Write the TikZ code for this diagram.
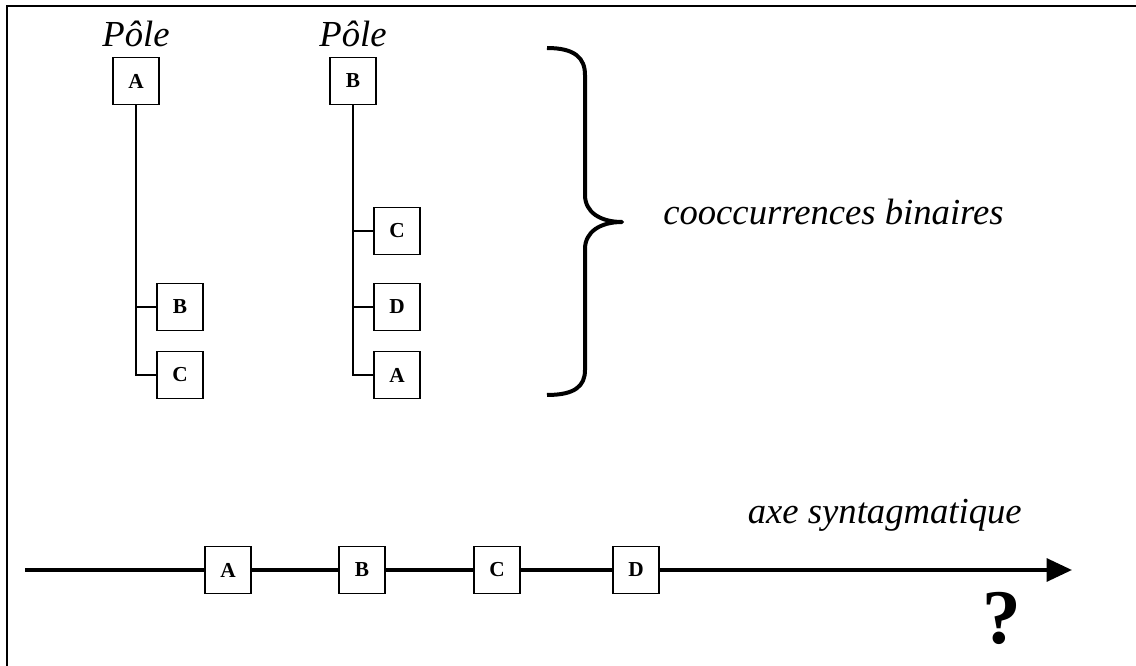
\documentclass[tikz,border=0pt]{standalone}
\usepackage{fontspec}
\setmainfont{Liberation Serif}
\usetikzlibrary{positioning, arrows.meta}

\begin{document}
\begin{tikzpicture}[
    x=0.75pt, y=-0.75pt,
    lettre/.style={rectangle, draw=black, line width=1.2pt, fill=white, minimum width=34.5pt, minimum height=35pt, inner sep=0pt, font=\fontsize{16}{16}\selectfont\bfseries},
    pole/.style={font=\fontsize{27.5}{30}\selectfont\itshape, inner sep=0pt},
    legende/.style={font=\fontsize{27.5}{30}\selectfont\itshape, inner sep=0pt},
    branche/.style={line width=1.5pt},
    axe/.style={line width=3pt},
    fleche/.style={-{Triangle[length=19pt, width=17pt]}, line width=3pt},
]

\useasboundingbox (0,0) rectangle (1136,666);

% ========== FRAME ==========
\draw[line width=1.5pt] (7,666) -- (7,6) -- (1136,6);

% ========== POLE A ==========
\node[lettre] (pA) at (136,81) {A};
\node[pole, above=7.5pt of pA] (lpA) {Pôle};
\node[lettre] (pAb) at (180,307) {B};
\node[lettre] (pAc) at (180,375) {C};

% ========== POLE B ==========
\node[lettre] (pB) at (353,81) {B};
\node[pole, above=7.5pt of pB] (lpB) {Pôle};
\node[lettre] (pBc) at (397,231) {C};
\node[lettre] (pBd) at (397,307) {D};
\node[lettre] (pBa) at (397,375) {A};

% ========== BRANCHES ==========
\draw[branche] (pA.south) |- (pAb.west);
\draw[branche] (pA.south) |- (pAc.west);

\draw[branche] (pB.south) |- (pBc.west);
\draw[branche] (pB.south) |- (pBd.west);
\draw[branche] (pB.south) |- (pBa.west);

% ========== BRACE ==========
\draw[line width=3pt, line join=round] (547,48) .. controls (575,48) and (585,58) .. (585,75)
    -- (585,195) .. controls (585,212) and (600,222) .. (622,222)
    .. controls (600,222) and (585,232) .. (585,249)
    -- (585,370) .. controls (585,386) and (575,395) .. (547,395);
\node[legende, anchor=base west] (cooc) at (663,225) {cooccurrences binaires};

% ========== AXE SYNTAGMATIQUE ==========
\coordinate (debut) at (25,570);
\coordinate (fin) at (1072,570);
\node[lettre] (sA) at (228,570) {A};
\node[lettre] (sB) at (362,570) {B};
\node[lettre] (sC) at (497,570) {C};
\node[lettre] (sD) at (636,570) {D};

\draw[axe] (debut) -- (sA);
\draw[axe] (sA) -- (sB);
\draw[axe] (sB) -- (sC);
\draw[axe] (sC) -- (sD);
\draw[fleche] (sD) -- (fin);

\node[legende, anchor=base east] (syn) at (1022,524) {axe syntagmatique};
\node[font=\fontsize{58}{58}\selectfont\bfseries, anchor=base, inner sep=0pt] (q) at (1002,643) {?};

\end{tikzpicture}
\end{document}
